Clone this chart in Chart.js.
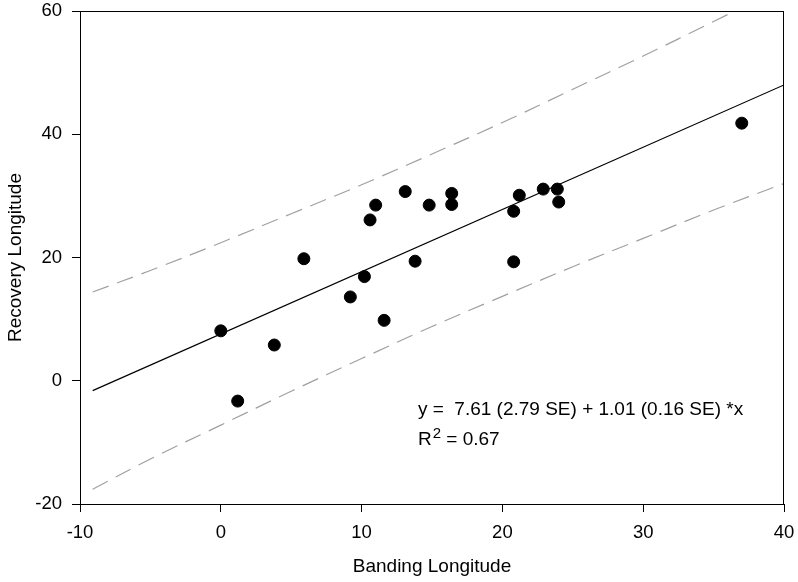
<!DOCTYPE html>
<html>
<head>
<meta charset="utf-8">
<script src="https://cdn.jsdelivr.net/npm/chart.js@4.4.1/dist/chart.umd.min.js"></script>
<style>
  html, body { margin: 0; padding: 0; background: #fff; }
  #wrap { width: 798px; height: 582px; }
</style>
</head>
<body>
<div id="wrap"><canvas id="c" width="798" height="582"></canvas></div>
<script>
// Observations
const bandingLon  = [0.0, 1.2, 3.8, 5.9, 9.2, 10.2, 10.6, 11.0, 11.6, 13.1, 13.8, 14.8, 16.4, 16.4, 20.8, 20.8, 21.2, 22.9, 23.9, 24.0, 37.0];
const recoveryLon = [8.1, -3.3, 5.8, 19.8, 13.6, 16.9, 26.1, 28.5, 9.8, 30.7, 19.4, 28.5, 30.4, 28.6, 19.3, 27.5, 30.1, 31.1, 31.1, 29.0, 41.8];

// Regression line
const fitX = [-9.1, 40];
const fitY = [-1.6, 48.0];

// Prediction band
const bandX     = [-9.1, -5, 0, 5, 10, 15, 20, 25, 30, 35, 40];
const bandUpper = [14.4, 17.9, 22.4, 27.1, 31.8, 36.8, 41.9, 47.3, 52.7, 58.3, 64.0];
const bandLower = [-17.6, -12.7, -7.2, -1.7, 3.6, 8.8, 13.7, 18.5, 23.1, 27.7, 32.0];

const xTicks = [-10, 0, 10, 20, 30, 40];
const yTicks = [-20, 0, 20, 40, 60];

const eqLine1 = 'y =  7.61 (2.79 SE) + 1.01 (0.16 SE) *x';
const eqLine2a = 'R';
const eqLine2sup = '2';
const eqLine2b = ' = 0.67';

const FONT = 'Liberation Sans, Arial, sans-serif';

const zip = (xs, ys) => xs.map((x, i) => ({x: x, y: ys[i]}));

const framePlugin = {
  id: 'frame',
  afterDatasetsDraw(chart) {
    const {ctx, chartArea: a, scales} = chart;
    ctx.save();
    ctx.strokeStyle = '#000';
    ctx.lineWidth = 1;
    ctx.strokeRect(a.left + 0.5, a.top + 0.5, a.right - a.left - 1, a.bottom - a.top);
    // equation text
    ctx.fillStyle = '#000';
    ctx.textBaseline = 'middle';
    ctx.textAlign = 'left';
    ctx.font = '19px ' + FONT;
    const tx = scales.x.getPixelForValue(14);
    const ty1 = scales.y.getPixelForValue(-4.75);
    const ty2 = scales.y.getPixelForValue(-9.6);
    ctx.fillText(eqLine1, tx, ty1);
    ctx.fillText(eqLine2a, tx, ty2);
    let w = ctx.measureText(eqLine2a).width;
    ctx.font = '15px ' + FONT;
    ctx.fillText(eqLine2sup, tx + w + 1, ty2 - 6);
    const w2 = ctx.measureText(eqLine2sup).width;
    ctx.font = '19px ' + FONT;
    ctx.fillText(eqLine2b, tx + w + w2 + 1, ty2);
    ctx.restore();
  }
};

new Chart(document.getElementById('c'), {
  type: 'scatter',
  data: {
    datasets: [
      {
        type: 'line',
        data: zip(bandX, bandUpper),
        borderColor: '#a0a0a0',
        borderWidth: 1.2,
        borderDash: [17, 9],
        pointRadius: 0,
        fill: false,
        tension: 0.4,
        order: 3
      },
      {
        type: 'line',
        data: zip(bandX, bandLower),
        borderColor: '#a0a0a0',
        borderWidth: 1.2,
        borderDash: [17, 9],
        pointRadius: 0,
        fill: false,
        tension: 0.4,
        order: 3
      },
      {
        type: 'line',
        data: zip(fitX, fitY),
        borderColor: '#000',
        borderWidth: 1.2,
        pointRadius: 0,
        fill: false,
        order: 2
      },
      {
        type: 'scatter',
        data: zip(bandingLon, recoveryLon),
        backgroundColor: '#000',
        borderColor: '#000',
        pointRadius: 6,
        pointHoverRadius: 6,
        order: 1
      }
    ]
  },
  options: {
    responsive: false,
    animation: false,
    devicePixelRatio: 1,
    layout: { padding: { top: 11, right: 14, left: 0, bottom: 0 } },
    plugins: {
      legend: { display: false },
      tooltip: { enabled: false }
    },
    scales: {
      x: {
        type: 'linear',
        min: -10, max: 40,
        afterBuildTicks: (s) => { s.ticks = xTicks.map(v => ({value: v})); },
        afterFit: (s) => { s.height = 78; s.paddingLeft = 0; s.paddingRight = 0; },
        grid: { drawOnChartArea: false, drawTicks: true, tickLength: 8, tickColor: '#000', color: '#000' },
        border: { display: true, color: '#000', width: 1 },
        ticks: { color: '#000', font: { family: FONT, size: 18.5 }, padding: 10, maxRotation: 0 },
        title: { display: true, text: 'Banding Longitude', color: '#000', font: { family: FONT, size: 19 }, padding: { top: 8 } }
      },
      y: {
        type: 'linear',
        min: -20, max: 60,
        afterBuildTicks: (s) => { s.ticks = yTicks.map(v => ({value: v})); },
        afterFit: (s) => { s.width = 80; s.paddingTop = 0; s.paddingBottom = 0; },
        grid: { drawOnChartArea: false, drawTicks: true, tickLength: 8, tickColor: '#000', color: '#000' },
        border: { display: true, color: '#000', width: 1 },
        ticks: { color: '#000', font: { family: FONT, size: 18.5 }, padding: 10 },
        title: { display: true, text: 'Recovery Longitude', color: '#000', font: { family: FONT, size: 19 }, padding: { bottom: 0, top: 4 } }
      }
    }
  },
  plugins: [framePlugin]
});
</script>
</body>
</html>
